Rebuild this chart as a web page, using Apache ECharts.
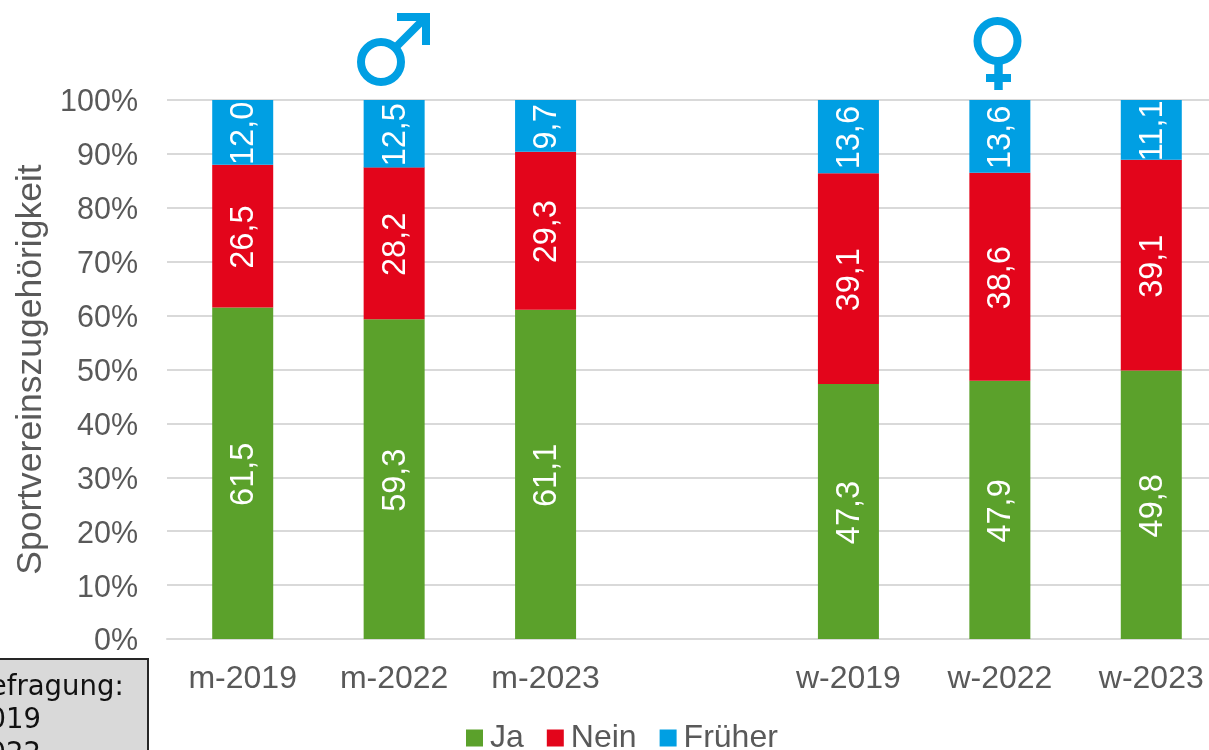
<!DOCTYPE html>
<html><head><meta charset="utf-8">
<style>html,body{margin:0;padding:0;background:#fff;overflow:hidden}#c{width:1209px;height:750px}</style>
<script src="https://cdn.jsdelivr.net/npm/echarts@6/dist/echarts.min.js"></script>
</head><body><div id="c"></div>
<script>
const categories = ['m-2019','m-2022','m-2023','','w-2019','w-2022','w-2023'];
const ja = [61.5,59.3,61.1,null,47.3,47.9,49.8];
const nein = [26.5,28.2,29.3,null,39.1,38.6,39.1];
const frueher = [12.0,12.5,9.7,null,13.6,13.6,11.1];
const seriesNames = ['Ja','Nein','Früher'];
const colors = ['#5BA12B','#E3051B','#009FE3'];
const yTitle = 'Sportvereinszugehörigkeit';
const boxLines = 'Befragung:\n2019\n2022';
const FONT = '"Liberation Sans", Arial, sans-serif';
const TXT = '#595959';
const blue = colors[2];
const chart = echarts.init(document.getElementById('c'), null, {renderer:'canvas'});
const mk = (name,data,i)=>({
  name, type:'bar', stack:'a', data, barWidth:61,
  itemStyle:{color:colors[i]},
  label:{show:true, position:'inside', rotate:90, offset:[-1,1.5], color:'#fff', fontFamily:FONT, fontSize:32.5,
    align:'center', verticalAlign:'middle',
    formatter:p=>p.value==null?'':p.value.toFixed(1).replace('.',',')}
});
chart.setOption({
  animation:false,
  backgroundColor:'#fff',
  grid:{left:167, top:100, width:1060, height:539, containLabel:false, outerBoundsMode:'none'},
  legend:{left:461, top:717, icon:'rect', itemWidth:17, itemHeight:17, itemGap:23,
    textStyle:{color:TXT, fontFamily:FONT, fontSize:32, padding:[9,0,0,2]},
    data:seriesNames},
  xAxis:{type:'category', data:categories,
    axisLine:{lineStyle:{color:'#D9D9D9',width:2}}, axisTick:{show:false},
    axisLabel:{color:TXT, fontFamily:FONT, fontSize:32, margin:24, interval:0}},
  yAxis:{type:'value', min:0, max:100, interval:10,
    name:yTitle, nameLocation:'middle', nameGap:117, nameRotate:90,
    nameTextStyle:{color:TXT, fontFamily:FONT, fontSize:35.5},
    axisLine:{show:false}, axisTick:{show:false},
    splitLine:{lineStyle:{color:'#D9D9D9',width:2}},
    axisLabel:{margin:29, formatter:'{v|{value}%}',
      rich:{v:{color:TXT, fontFamily:FONT, fontSize:30.5, padding:[6,0,0,0]}}}},
  series:[mk(seriesNames[0],ja,0),mk(seriesNames[1],nein,1),mk(seriesNames[2],frueher,2)],
  graphic:[
    {type:'rect', shape:{x:-10,y:659,width:158,height:110}, style:{fill:'#D9D9D9',stroke:'#262626',lineWidth:2}},
    {type:'text', x:-29, y:671, style:{text:boxLines, fill:'#111', font:'27.5px "DejaVu Sans", Verdana, sans-serif', lineHeight:33.5}},
    {type:'circle', shape:{cx:381,cy:62,r:20}, style:{fill:'none',stroke:blue,lineWidth:8}},
    {type:'line', shape:{x1:396,y1:47,x2:425,y2:18}, style:{stroke:blue,lineWidth:8}},
    {type:'polygon', shape:{points:[[397,13],[430,13],[430,45],[422,45],[422,21],[397,21]]}, style:{fill:blue}},
    {type:'circle', shape:{cx:997.5,cy:41,r:20}, style:{fill:'none',stroke:blue,lineWidth:8}},
    {type:'line', shape:{x1:998.5,y1:64,x2:998.5,y2:90}, style:{stroke:blue,lineWidth:8.5}},
    {type:'line', shape:{x1:986,y1:78,x2:1011,y2:78}, style:{stroke:blue,lineWidth:8}}
  ]
});
</script></body></html>
